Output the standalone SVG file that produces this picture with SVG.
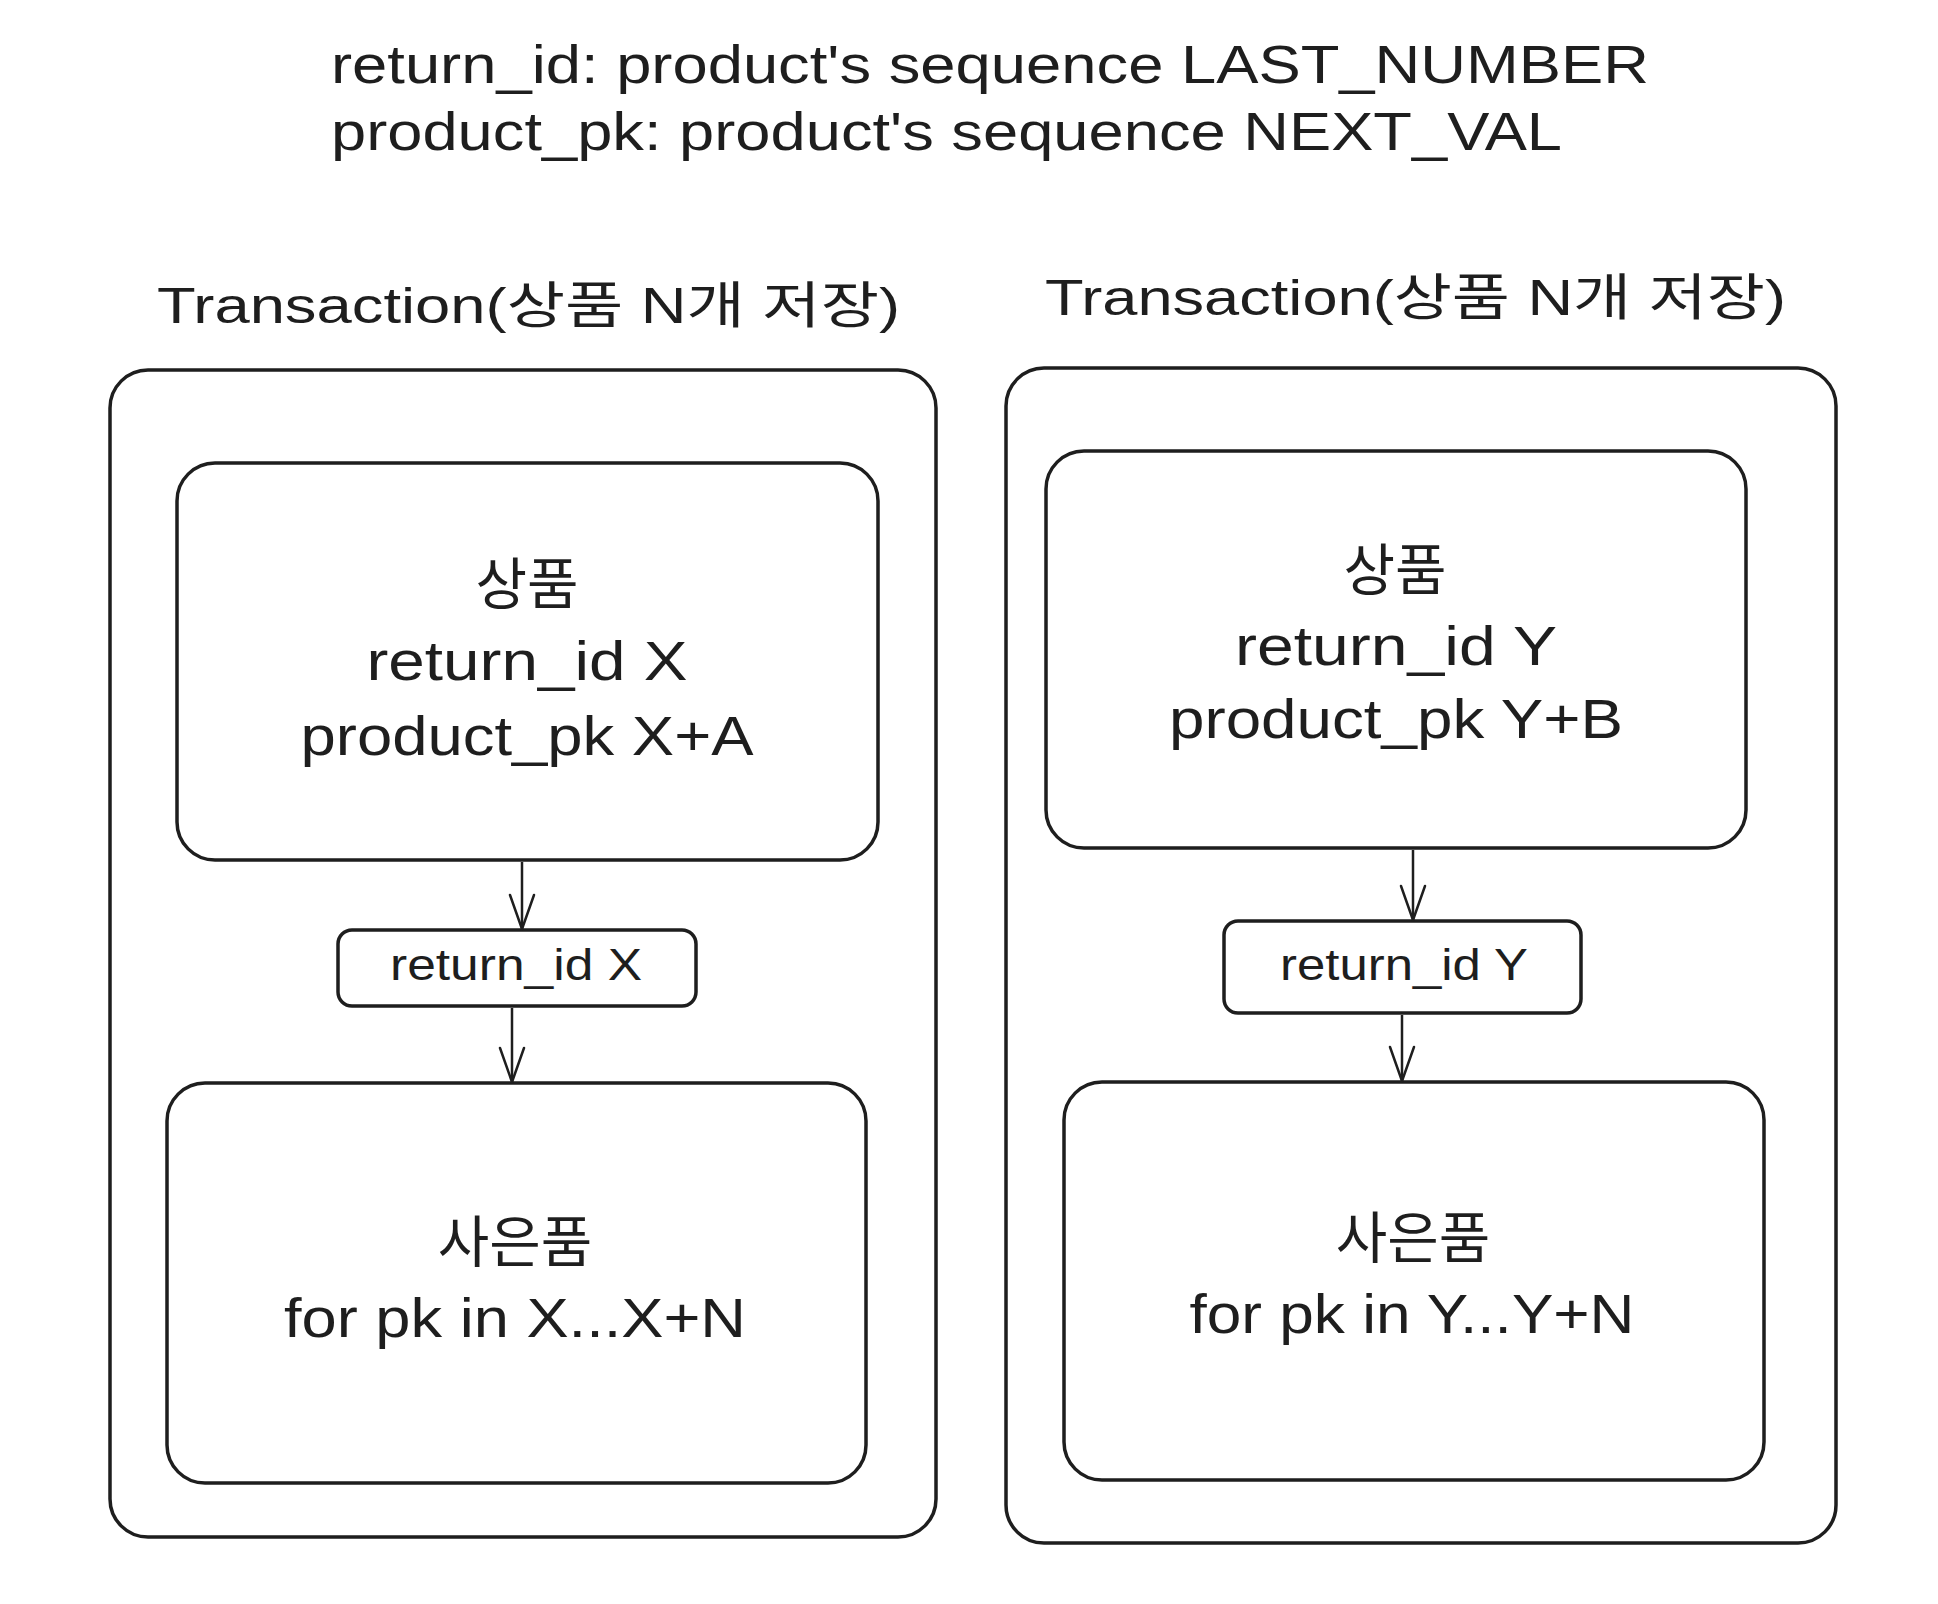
<svg xmlns="http://www.w3.org/2000/svg" width="1938" height="1604" viewBox="0 0 1938 1604">
  <style>
    .box { fill: none; stroke: #1e1e1e; stroke-width: 3.5; }
    .t { font-family: "Liberation Sans", "Noto Sans CJK KR", sans-serif; fill: #1e1e1e; }
    .title { font-size: 54px; }
    .head { font-size: 50px; }
    .big { font-size: 56px; text-anchor: middle; }
    .small { font-size: 44px; text-anchor: middle; }
    .conn { stroke: #1e1e1e; stroke-width: 2.5; fill: none; }
  </style>
  <defs>
    <marker id="arrow" markerUnits="userSpaceOnUse" viewBox="0 0 40 28" markerWidth="40" markerHeight="28" refX="37" refY="14" orient="auto">
      <path d="M3 2 L37 14 L3 26" fill="none" stroke="#1e1e1e" stroke-width="2.5" stroke-linecap="round" stroke-linejoin="round"/>
    </marker>
  </defs>
  <rect width="1938" height="1604" fill="#ffffff"/>

  <g id="title">
    <text class="t title" x="331" y="83" textLength="1318" lengthAdjust="spacingAndGlyphs">return_id: product's sequence LAST_NUMBER</text>
    <text class="t title" x="331" y="150" textLength="1231" lengthAdjust="spacingAndGlyphs">product_pk: product's sequence NEXT_VAL</text>
  </g>

  <g id="tx-left">
    <text class="t head" x="157" y="323" textLength="743" lengthAdjust="spacingAndGlyphs">Transaction(상품 N개 저장)</text>
    <rect class="box" x="110" y="370" width="826" height="1167" rx="38"/>
  </g>
  <g id="tx-right">
    <text class="t head" x="1045" y="315" textLength="741" lengthAdjust="spacingAndGlyphs">Transaction(상품 N개 저장)</text>
    <rect class="box" x="1006" y="368" width="830" height="1175" rx="38"/>
  </g>

  <g id="product-left">
    <rect class="box" x="177" y="463" width="701" height="397" rx="38"/>
    <text class="t big" x="527" y="604">상품</text>
    <text class="t big" x="527" y="680" textLength="321" lengthAdjust="spacingAndGlyphs">return_id X</text>
    <text class="t big" x="527" y="755" textLength="453" lengthAdjust="spacingAndGlyphs">product_pk X+A</text>
  </g>
  <g id="rid-left">
    <rect class="box" x="338" y="930" width="358" height="76" rx="14"/>
    <text class="t small" x="516" y="980" textLength="252" lengthAdjust="spacingAndGlyphs">return_id X</text>
  </g>
  <g id="gift-left">
    <rect class="box" x="167" y="1083" width="699" height="400" rx="38"/>
    <text class="t big" x="515" y="1262">사은품</text>
    <text class="t big" x="515" y="1337" textLength="462" lengthAdjust="spacingAndGlyphs">for pk in X...X+N</text>
  </g>

  <g id="product-right">
    <rect class="box" x="1046" y="451" width="700" height="397" rx="38"/>
    <text class="t big" x="1395" y="590">상품</text>
    <text class="t big" x="1396" y="665" textLength="322" lengthAdjust="spacingAndGlyphs">return_id Y</text>
    <text class="t big" x="1396" y="738" textLength="454" lengthAdjust="spacingAndGlyphs">product_pk Y+B</text>
  </g>
  <g id="rid-right">
    <rect class="box" x="1224" y="921" width="357" height="92" rx="14"/>
    <text class="t small" x="1404" y="980" textLength="248" lengthAdjust="spacingAndGlyphs">return_id Y</text>
  </g>
  <g id="gift-right">
    <rect class="box" x="1064" y="1082" width="700" height="398" rx="38"/>
    <text class="t big" x="1413" y="1258">사은품</text>
    <text class="t big" x="1412" y="1333" textLength="445" lengthAdjust="spacingAndGlyphs">for pk in Y...Y+N</text>
  </g>

  <g id="connectors">
    <line class="conn" x1="522" y1="862" x2="522" y2="929" marker-end="url(#arrow)"/>
    <line class="conn" x1="512" y1="1008" x2="512" y2="1082" marker-end="url(#arrow)"/>
    <line class="conn" x1="1413" y1="850" x2="1413" y2="920" marker-end="url(#arrow)"/>
    <line class="conn" x1="1402" y1="1015" x2="1402" y2="1081" marker-end="url(#arrow)"/>
  </g>
</svg>
